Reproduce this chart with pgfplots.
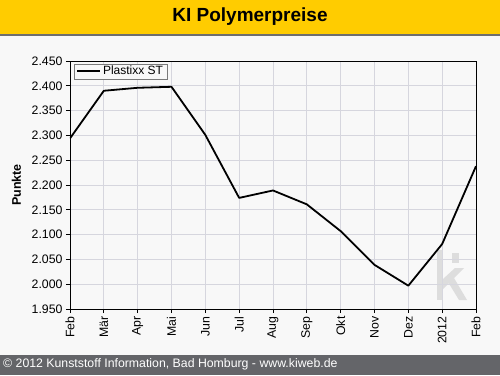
\documentclass[border=0pt]{standalone}
\usepackage{fontspec}
\setmainfont{Liberation Sans}
\usepackage{pgfplots}
\pgfplotsset{compat=1.18}
\definecolor{bg}{HTML}{F8F8F8}
\definecolor{titley}{HTML}{FFCC00}
\definecolor{titleline}{HTML}{6E6E6E}
\definecolor{footer}{HTML}{646569}
\definecolor{gridc}{HTML}{D6D6DE}
\definecolor{wm}{HTML}{DDDDDD}
\definecolor{legb}{HTML}{7A7A7A}
\begin{document}
\begin{tikzpicture}
\useasboundingbox (0pt,0pt) rectangle (500pt,375pt);
\fill[bg] (0pt,0pt) rectangle (500pt,375pt);
\fill[titley] (0pt,341pt) rectangle (500pt,375pt);
\fill[titleline] (0pt,339pt) rectangle (500pt,341pt);
\fill[footer] (0pt,0pt) rectangle (500pt,20pt);
\node[font=\fontsize{19}{22}\selectfont\bfseries, anchor=center] at (250pt,358pt) {KI Polymerpreise};
\node[font=\fontsize{12.3}{14}\selectfont, text=white, anchor=west, inner sep=0pt] at (3pt,10.5pt) {© 2012 Kunststoff Information, Bad Homburg - www.kiweb.de};
% watermark
\fill[wm] (437pt,75pt) rectangle (443pt,125pt);
\fill[wm] (452pt,112pt) rectangle (459pt,122pt);
\fill[wm] (443pt,96pt) -- (455pt,107pt) -- (464pt,107pt) -- (443pt,86pt) -- cycle;
\fill[wm] (448pt,93pt) -- (454pt,97pt) -- (467pt,75pt) -- (459pt,75pt) -- cycle;
\begin{axis}[
  at={(70pt,66pt)}, anchor=south west,
  scale only axis, width=406pt, height=248pt,
  xmin=0, xmax=12, ymin=1.95, ymax=2.45,
  xtick={0,1,...,12},
  xticklabels={Feb,Mär,Apr,Mai,Jun,Jul,Aug,Sep,Okt,Nov,Dez,2012,Feb},
  ytick={1.95,2.0,2.05,2.1,2.15,2.2,2.25,2.3,2.35,2.4,2.45},
  yticklabels={1.950,2.000,2.050,2.100,2.150,2.200,2.250,2.300,2.350,2.400,2.450},
  xtick pos=bottom, ytick pos=left,
  tick align=outside, major tick length=4pt,
  tick style={black, line width=0.8pt},
  axis line style={black, line width=0.9pt},
  grid=major,
  grid style={gridc, line width=0.9pt},
  ticklabel style={font=\fontsize{12.3}{14}\selectfont},
  xticklabel style={rotate=90, anchor=east},
  /pgf/number format/assume math mode=true,
  every axis y label/.style={at={(axis description cs:-0.1318,0.5)}, rotate=90, anchor=center},
  ylabel={\bfseries Punkte},
  ylabel style={font=\fontsize{12.5}{14}\selectfont},
  legend style={at={(axis description cs:0,1)}, anchor=north west, xshift=4pt, yshift=-2.5pt,
    draw=legb, fill=bg, font=\fontsize{12}{14}\selectfont, inner xsep=2pt, inner ysep=0.5pt},
  legend cell align=left,
  legend image code/.code={\draw[#1] (0pt,0pt) -- (23pt,0pt);},
]
\addplot[black, line width=1.8pt, line join=round] coordinates {
 (0,2.294) (1,2.390) (2,2.396) (3,2.398) (4,2.301) (5,2.174) (6,2.189)
 (7,2.161) (8,2.107) (9,2.039) (10,1.997) (11,2.081) (12,2.238)
};
\addlegendentry{Plastixx ST}
\end{axis}
\end{tikzpicture}
\end{document}
